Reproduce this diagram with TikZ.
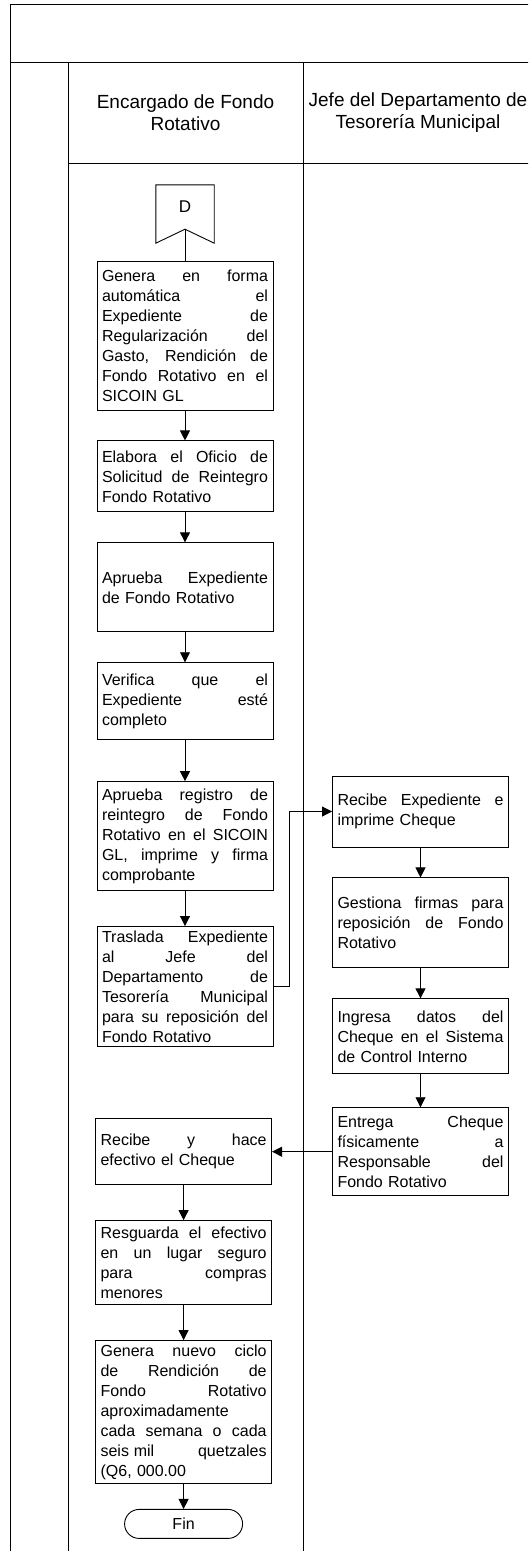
\documentclass[tikz,border=0pt]{standalone}
\usepackage{fontspec}
\setmainfont{Liberation Sans}
\usetikzlibrary{arrows.meta, positioning}
\newcommand{\jl}[1]{\makebox[166pt][s]{\spaceskip=.3333em plus 1fil\xspaceskip=.3333em plus 1fil #1}}

\begin{document}
\begin{tikzpicture}[x=1pt, y=-1pt, >={Triangle[length=10pt,width=10pt]},
        lanehead/.style={align=center, inner sep=0pt, font=\fontsize{19}{22}\selectfont},
        task/.style={draw, line width=0.9pt, text width=166pt, inner xsep=5pt, inner ysep=2pt, align=left, font=\fontsize{16}{20}\selectfont},
        terminal/.style={draw, line width=0.9pt, rounded corners=14.5pt, minimum width=118pt, minimum height=29pt, inner sep=0pt, font=\fontsize{16}{20}\selectfont},
        flow/.style={->, line width=0.9pt},
        lane/.style={line width=1pt}]
        \clip (0,0) rectangle (528,1551);
        % swimlane frame
        \draw[lane] (10,1560) -- (10,4) -- (540,4);
        \draw[lane] (10,62) -- (540,62);
        \draw[lane] (68,62) -- (68,1560);
        \draw[lane] (303,62) -- (303,1560);
        \draw[lane] (68,163) -- (540,163);
        \node[lanehead] (head1) at (185.5,112.5) {Encargado de Fondo\\Rotativo};
        \node[lanehead] (head2) at (418,112.5) {Jefe del Departamento de\\Tesorería Municipal};
        % off-page connector
        \node[minimum width=58pt, minimum height=58pt, inner sep=0pt] (dconn) at (185,214) {};
        \coordinate (dnotch) at ([yshift=14pt]dconn.south);
        \draw[line width=0.9pt] (dconn.north west) -- (dconn.north east) -- (dconn.south east) -- (dnotch) -- (dconn.south west) -- cycle;
        \node[font=\fontsize{17}{20}\selectfont] (dlabel) at ([yshift=7pt]dconn.center) {D};
        % Encargado de Fondo Rotativo
        \node[task, minimum height=149pt] (genera) at (185,335.5) {\jl{Genera en forma}\\ \jl{automática el}\\ \jl{Expediente de}\\ \jl{Regularización del}\\ \jl{Gasto, Rendición de}\\ \jl{Fondo Rotativo en el}\\ SICOIN GL};
        \node[task, minimum height=71pt, below=30pt of genera] (elabora) {\jl{Elabora el Oficio de}\\ \jl{Solicitud de Reintegro}\\ Fondo Rotativo};
        \node[task, minimum height=89pt, below=30pt of elabora] (aprueba) {\jl{Aprueba Expediente}\\ de Fondo Rotativo};
        \node[task, minimum height=77pt, below=30pt of aprueba] (verifica) {\jl{Verifica que el}\\ \jl{Expediente esté}\\ completo};
        \node[task, minimum height=109pt, below=41pt of verifica] (apruebareg) {\jl{Aprueba registro de}\\ \jl{reintegro de Fondo}\\ \jl{Rotativo en el SICOIN}\\ \jl{GL, imprime y firma}\\ comprobante};
        \node[task, minimum height=120pt, below=35pt of apruebareg] (traslada) {\jl{Traslada Expediente}\\ \jl{al Jefe del}\\ \jl{Departamento de}\\ \jl{Tesorería Municipal}\\ \jl{para su reposición del}\\ Fondo Rotativo};
        % Jefe del Departamento de Tesoreria
        \node[task, minimum height=71pt] (recibeexp) at (420.5,811.5) {\jl{Recibe Expediente e}\\ imprime Cheque};
        \node[task, minimum height=90pt, below=30pt of recibeexp] (gestiona) {\jl{Gestiona firmas para}\\ \jl{reposición de Fondo}\\ Rotativo};
        \node[task, minimum height=75pt, below=30pt of gestiona] (ingresa) {\jl{Ingresa datos del}\\ \jl{Cheque en el Sistema}\\ de Control Interno};
        \node[task, minimum height=88pt, below=33pt of ingresa] (entrega) {\jl{Entrega Cheque}\\ \jl{físicamente a}\\ \jl{Responsable del}\\ Fondo Rotativo};
        % back to Encargado
        \node[task, minimum height=66pt, left=60pt of entrega] (recibe) {\jl{Recibe y hace}\\ efectivo el Cheque};
        \node[task, minimum height=84pt, below=35pt of recibe] (resguarda) {\jl{Resguarda el efectivo}\\ \jl{en un lugar seguro}\\ \jl{para compras}\\ menores};
        \node[task, minimum height=143pt, below=35pt of resguarda] (generanuevo) {\jl{Genera nuevo ciclo}\\ \jl{de Rendición de}\\ \jl{Fondo Rotativo}\\ aproximadamente\\ \jl{cada semana o cada}\\ \jl{seis\hspace{0.3em}mil quetzales}\\ (Q6, 000.00};
        \node[terminal, below=25pt of generanuevo] (fin) {Fin};
        % connectors
        \draw[line width=0.9pt] (dnotch) -- (genera.north);
        \draw[flow] (genera) -- (elabora);
        \draw[flow] (elabora) -- (aprueba);
        \draw[flow] (aprueba) -- (verifica);
        \draw[flow] (verifica) -- (apruebareg);
        \draw[flow] (apruebareg) -- (traslada);
        \draw[flow] (traslada.east) -- ++(16,0) |- (recibeexp.west);
        \draw[flow] (recibeexp) -- (gestiona);
        \draw[flow] (gestiona) -- (ingresa);
        \draw[flow] (ingresa) -- (entrega);
        \draw[flow] (entrega) -- (recibe);
        \draw[flow] (recibe) -- (resguarda);
        \draw[flow] (resguarda) -- (generanuevo);
        \draw[flow] (generanuevo) -- (fin);
    \end{tikzpicture}
\end{document}
